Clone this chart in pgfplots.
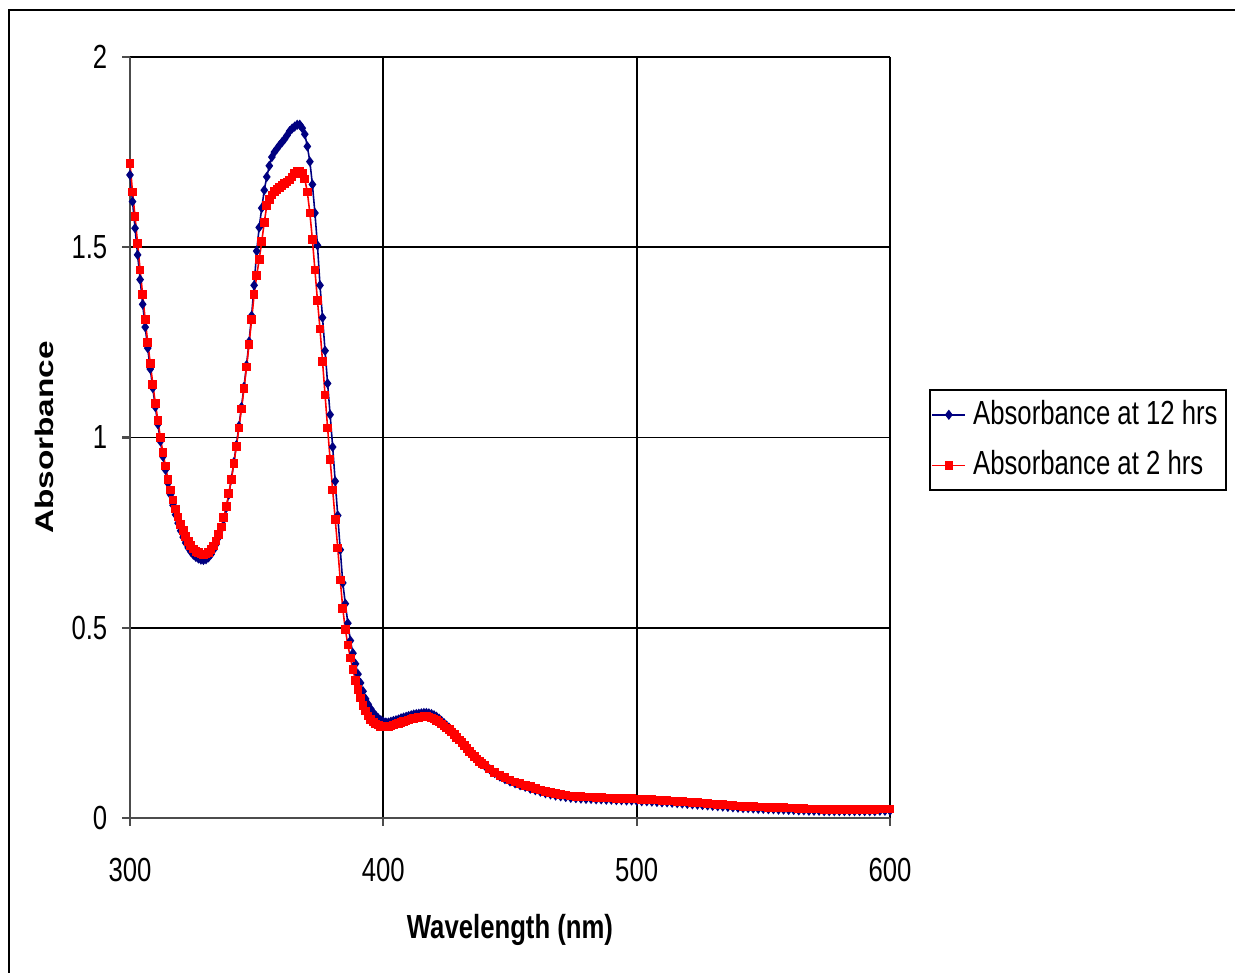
\documentclass[border=0pt]{standalone}
\usepackage{fontspec}
\setmainfont{Liberation Sans}[FakeStretch=0.77]
\newfontfamily\ylabfont{Liberation Sans}
\usepackage{pgfplots}
\pgfplotsset{compat=1.18}
\usepackage{pgfplotstable}
\definecolor{navyline}{RGB}{0,0,128}
\definecolor{redline}{RGB}{255,0,0}

% wavelength (nm), absorbance at 12 hrs, absorbance at 2 hrs
\pgfplotstableread{
wl b r
300 1.690 1.720
301 1.620 1.645
302 1.550 1.580
303 1.480 1.510
304 1.415 1.440
305 1.350 1.375
306 1.290 1.310
307 1.235 1.250
308 1.180 1.195
309 1.130 1.140
310 1.080 1.090
311 1.035 1.045
312 0.990 1.000
313 0.950 0.960
314 0.915 0.925
315 0.880 0.890
316 0.850 0.862
317 0.822 0.836
318 0.797 0.812
319 0.775 0.791
320 0.755 0.772
321 0.738 0.755
322 0.723 0.740
323 0.710 0.727
324 0.700 0.716
325 0.692 0.707
326 0.686 0.701
327 0.682 0.697
328 0.679 0.694
329 0.678 0.693
330 0.680 0.694
331 0.685 0.698
332 0.693 0.705
333 0.705 0.715
334 0.720 0.728
335 0.738 0.745
336 0.760 0.765
337 0.785 0.789
338 0.815 0.818
339 0.850 0.852
340 0.890 0.890
341 0.935 0.932
342 0.980 0.977
343 1.030 1.025
344 1.080 1.075
345 1.133 1.128
346 1.190 1.185
347 1.252 1.245
348 1.320 1.310
349 1.400 1.375
350 1.490 1.425
351 1.552 1.468
352 1.603 1.515
353 1.650 1.565
354 1.685 1.610
355 1.714 1.626
356 1.737 1.637
357 1.750 1.646
358 1.759 1.652
359 1.768 1.657
360 1.776 1.662
361 1.784 1.667
362 1.794 1.671
363 1.805 1.677
364 1.812 1.685
365 1.817 1.694
366 1.822 1.700
367 1.822 1.700
368 1.813 1.694
369 1.797 1.679
370 1.765 1.645
371 1.725 1.590
372 1.665 1.520
373 1.590 1.440
374 1.505 1.360
375 1.400 1.285
376 1.315 1.200
377 1.228 1.112
378 1.142 1.025
379 1.060 0.942
380 0.975 0.862
381 0.885 0.785
382 0.795 0.710
383 0.705 0.625
384 0.618 0.550
385 0.563 0.495
386 0.512 0.455
387 0.466 0.420
388 0.433 0.390
389 0.405 0.362
390 0.378 0.337
391 0.355 0.315
392 0.333 0.296
393 0.313 0.281
394 0.299 0.268
395 0.287 0.259
396 0.277 0.252
397 0.269 0.247
398 0.262 0.244
399 0.257 0.241
400 0.253 0.240
401 0.251 0.239
402 0.251 0.240
403 0.253 0.242
404 0.255 0.244
405 0.257 0.247
406 0.259 0.249
407 0.262 0.251
408 0.264 0.253
409 0.266 0.255
410 0.268 0.258
411 0.270 0.260
412 0.272 0.262
413 0.273 0.263
414 0.274 0.264
415 0.275 0.265
416 0.276 0.266
417 0.276 0.266
418 0.275 0.265
419 0.273 0.263
420 0.270 0.260
421 0.266 0.257
422 0.261 0.252
423 0.255 0.247
424 0.249 0.242
425 0.243 0.237
426 0.237 0.232
427 0.230 0.226
428 0.223 0.219
429 0.216 0.212
430 0.208 0.205
431 0.200 0.198
432 0.192 0.190
433 0.184 0.183
434 0.176 0.175
435 0.169 0.168
436 0.162 0.161
437 0.155 0.155
438 0.149 0.149
439 0.143 0.144
440 0.138 0.139
442 0.128 0.129
444 0.118 0.120
446 0.109 0.112
448 0.102 0.106
450 0.096 0.100
452 0.091 0.095
454 0.086 0.091
456 0.082 0.086
458 0.077 0.082
460 0.073 0.078
462 0.069 0.074
464 0.065 0.070
466 0.062 0.067
468 0.059 0.064
470 0.057 0.062
472 0.055 0.060
474 0.053 0.058
476 0.052 0.057
478 0.051 0.056
480 0.050 0.055
482 0.050 0.055
484 0.049 0.054
486 0.049 0.054
488 0.048 0.053
490 0.048 0.053
492 0.047 0.052
494 0.047 0.052
496 0.046 0.051
498 0.046 0.051
500 0.045 0.050
502 0.044 0.049
504 0.044 0.049
506 0.043 0.048
508 0.042 0.047
510 0.041 0.046
512 0.041 0.046
514 0.040 0.045
516 0.039 0.044
518 0.038 0.043
520 0.037 0.042
522 0.036 0.041
524 0.035 0.040
526 0.034 0.039
528 0.033 0.038
530 0.032 0.037
532 0.031 0.036
534 0.030 0.035
536 0.029 0.034
538 0.028 0.033
540 0.027 0.032
542 0.026 0.031
544 0.026 0.031
546 0.025 0.030
548 0.024 0.029
550 0.024 0.029
552 0.023 0.028
554 0.023 0.028
556 0.022 0.027
558 0.022 0.027
560 0.021 0.026
562 0.021 0.026
564 0.020 0.025
566 0.020 0.025
568 0.019 0.024
570 0.019 0.024
572 0.019 0.024
574 0.018 0.023
576 0.018 0.023
578 0.018 0.023
580 0.018 0.023
582 0.018 0.023
584 0.018 0.023
586 0.018 0.023
588 0.018 0.023
590 0.018 0.023
592 0.018 0.023
594 0.018 0.023
596 0.019 0.024
598 0.019 0.024
600 0.019 0.024
}\spectra

\begin{document}
\begin{tikzpicture}
\clip (0,0) rectangle (12.35cm,9.73cm);
\draw[line width=0.8pt] (0.09cm,-1cm) -- (0.09cm,9.63cm) -- (13cm,9.63cm);
\begin{axis}[
  at={(1.30cm,1.55cm)}, anchor=south west,
  scale only axis, width=7.60cm, height=7.61cm,
  xmin=300, xmax=600, ymin=0, ymax=2,
  xtick={300,400,500,600}, ytick={0,0.5,1,1.5,2},
  axis x line=bottom, axis y line=left,
  axis line style={-, draw=gray!60!black, line width=0.6pt},
  grid=major, major grid style={black, line width=0.5pt},
  tick align=outside, major tick length=0.08cm,
  tick style={gray!60!black, line width=0.6pt},
  /pgf/number format/assume math mode=true,
  tick label style={font=\fontsize{9.5}{11}\selectfont},
  yticklabel style={anchor=east, inner sep=0pt, xshift=-0.14cm},
  xticklabel style={anchor=north, inner sep=0pt, yshift=-0.31cm},
  xlabel={\bfseries\fontsize{9.5}{11}\selectfont Wavelength (nm)},
  ylabel={\scalebox{1}[0.76]{\ylabfont\bfseries\fontsize{9.5}{11}\selectfont Absorbance}},
  xlabel style={at={(axis description cs:0.5,-0.147)}, anchor=center},
  ylabel style={at={(axis description cs:-0.113,0.5)}, anchor=center},
  clip=false,
  legend cell align=left,
  legend style={at={(axis description cs:1.051,0.5635)}, anchor=north west,
    draw=black, line width=0.6pt, font=\fontsize{9.5}{11}\selectfont,
    inner xsep=0.5pt, inner ysep=0.8pt, row sep=2pt},
  legend image code/.code={\draw[mark repeat=2, mark phase=2, #1]
    plot coordinates {(0cm,0cm) (0.165cm,0cm) (0.33cm,0cm)};},
]
\addplot[navyline, line width=0.45pt, mark=diamond*, mark size=1.1pt,
  mark options={fill=navyline, draw=navyline}] table[x=wl, y=b] {\spectra};
\addlegendentry{Absorbance at 12 hrs}
\addplot[redline, line width=0.45pt, mark=square*, mark size=1.0pt,
  mark options={fill=redline, draw=redline}] table[x=wl, y=r] {\spectra};
\addlegendentry{Absorbance at 2 hrs}
\end{axis}
\end{tikzpicture}
\end{document}
